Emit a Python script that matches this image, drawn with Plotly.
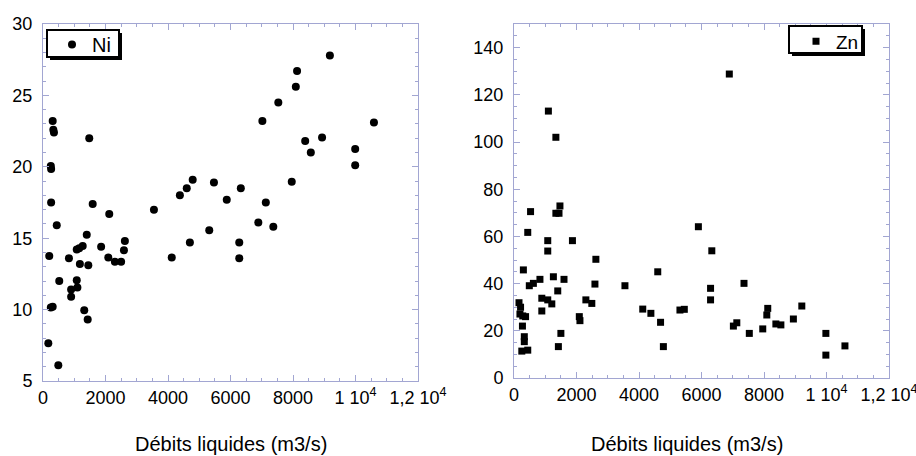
import plotly.graph_objects as go

# ---- data ----
ni_q = [310, 330, 350, 1480, 250, 260, 4380, 4600, 4790, 5470, 5880, 9180, 8130, 8090,
        7530, 7020, 10590, 8390, 8930, 8570, 9990, 9990, 6330, 7960, 7130, 260, 440, 200,
        520, 170, 490, 250, 310, 830, 900, 900, 1080, 1100, 1080, 1160, 1270, 1180, 1450,
        1400, 1320, 1430, 1590, 1860, 2120, 2090, 2300, 2500, 2590, 2620, 3550, 4120, 4700,
        5320, 6890, 7370, 6280, 6280]
ni_val = [23.2, 22.6, 22.4, 22.0, 20.05, 19.85, 18.0, 18.5, 19.1, 18.9, 17.7, 27.8, 26.7, 25.6,
          24.5, 23.2, 23.1, 21.8, 22.05, 21.0, 21.25, 20.1, 18.5, 18.95, 17.5, 17.5, 15.9, 13.75,
          12.0, 7.65, 6.1, 10.15, 10.2, 13.6, 10.9, 11.4, 12.05, 11.55, 14.2, 14.3, 14.45, 13.2, 13.1,
          15.25, 9.95, 9.3, 17.4, 14.4, 16.7, 13.65, 13.35, 13.35, 14.15, 14.8, 17.0, 13.65, 14.7,
          15.55, 16.1, 15.8, 14.7, 13.6]

zn_q = [1100, 1340, 6890, 530, 440, 1470, 1340, 1440, 1080, 1080, 1870, 2620, 300, 490, 620,
        830, 1260, 1600, 1400, 890, 1080, 1210, 890, 2590, 2300, 2490, 2090, 2110, 3550, 4120,
        4380, 4600, 4690, 4780, 5310, 5450, 5900, 1420, 1500, 160, 210, 190, 280, 370, 270, 330,
        330, 250, 440, 6330, 6290, 6290, 7360, 7020, 7130, 7530, 7960, 8120, 8090, 8380, 8540,
        8940, 9210, 9980, 9980, 10590]
zn_val = [113.1, 102.0, 128.8, 70.5, 61.7, 72.9, 69.8, 69.8, 58.2, 53.8, 58.2, 50.3, 45.8, 39.1, 40.1,
          41.8, 42.9, 41.8, 36.9, 33.8, 33.1, 31.4, 28.4, 39.8, 33.1, 31.6, 26.0, 24.3, 39.1, 29.2,
          27.4, 45.0, 23.6, 13.3, 28.8, 29.1, 64.1, 13.3, 18.9, 31.9, 30.0, 27.1, 26.3, 26.0, 22.0, 17.5,
          15.4, 11.4, 11.8, 53.9, 38.0, 33.1, 40.1, 22.0, 23.4, 18.9, 20.8, 29.5, 26.7, 22.9, 22.5,
          25.0, 30.5, 18.9, 9.7, 13.6]

x_tickvals = [0, 2000, 4000, 6000, 8000, 10000, 12000]
x_ticktext = ['0', '2000', '4000', '6000', '8000', '1 10<sup>4</sup>', '1,2 10<sup>4</sup>']
x_title = 'Débits liquides (m3/s)'

W, H = 916, 456
FONT = 'Liberation Sans, Arial, Helvetica, sans-serif'
AX = '#a2a6d2'

fig = go.Figure()
fig.add_trace(go.Scatter(x=ni_q, y=ni_val, mode='markers', name='Ni',
                         marker=dict(symbol='circle', size=8, color='black'),
                         xaxis='x', yaxis='y', legend='legend'))
fig.add_trace(go.Scatter(x=zn_q, y=zn_val, mode='markers', name='Zn',
                         marker=dict(symbol='square', size=7, color='black'),
                         xaxis='x2', yaxis='y2', legend='legend2'))


def ax(**kw):
    d = dict(showline=True, linecolor=AX, linewidth=1, mirror='allticks',
             ticks='inside', ticklen=6, tickcolor=AX, tickwidth=1,
             showgrid=False, zeroline=False, automargin=False,
             ticklabeloverflow='allow',
             tickfont=dict(family=FONT, size=18, color='black'))
    d.update(kw)
    return d


def px(v):
    return v / W


def py(v):
    return 1 - v / H


def legend_box(x0, y0, x1, y1):
    # shadow then framed white box (paper coords from pixel positions)
    return [
        dict(type='rect', xref='paper', yref='paper', x0=px(x0 + 3), x1=px(x1 + 3),
             y0=py(y1 + 3), y1=py(y0 + 3), fillcolor='black', line=dict(width=0), layer='above'),
        dict(type='rect', xref='paper', yref='paper', x0=px(x0), x1=px(x1),
             y0=py(y1), y1=py(y0), fillcolor='white', line=dict(color='black', width=2), layer='above'),
    ]


fig.update_layout(
    width=W, height=H, margin=dict(l=0, r=0, t=0, b=0, autoexpand=False),
    paper_bgcolor='white', plot_bgcolor='white', showlegend=True,
    font=dict(family=FONT, color='black'),
    xaxis=ax(domain=[px(43), px(418)], range=[0, 12000], tickvals=x_tickvals, ticktext=x_ticktext,
             anchor='y', minor=dict(dtick=500, ticks='inside', ticklen=3, tickcolor=AX)),
    yaxis=ax(domain=[py(381), py(24)], range=[5, 30], dtick=5, anchor='x',
             ticklabelstandoff=6,
             minor=dict(dtick=1, ticks='inside', ticklen=3, tickcolor=AX)),
    xaxis2=ax(domain=[px(514), px(889)], range=[0, 12000], tickvals=x_tickvals, ticktext=x_ticktext,
              anchor='y2', minor=dict(dtick=500, ticks='inside', ticklen=3, tickcolor=AX)),
    yaxis2=ax(domain=[py(378), py(24)], range=[0, 150], tickvals=[0, 20, 40, 60, 80, 100, 120, 140],
              anchor='x2', ticklabelstandoff=6,
              minor=dict(dtick=5, ticks='inside', ticklen=3, tickcolor=AX)),
    legend=dict(x=px(52), y=py(44.5), xanchor='left', yanchor='middle', bgcolor='rgba(0,0,0,0)',
                borderwidth=0, font=dict(family=FONT, size=20)),
    legend2=dict(x=px(796), y=py(41.5), xanchor='left', yanchor='middle', bgcolor='rgba(0,0,0,0)',
                 borderwidth=0, font=dict(family=FONT, size=19)),
    shapes=legend_box(47, 30, 119, 57) + legend_box(789, 26, 862, 53),
    annotations=[
        dict(text=x_title, x=px(231), y=py(444), xref='paper', yref='paper',
             xanchor='center', yanchor='middle',
             showarrow=False, font=dict(family=FONT, size=20, color='black')),
        dict(text=x_title, x=px(687), y=py(444), xref='paper', yref='paper',
             xanchor='center', yanchor='middle',
             showarrow=False, font=dict(family=FONT, size=20, color='black')),
    ],
)

fig.write_html('out.html')
